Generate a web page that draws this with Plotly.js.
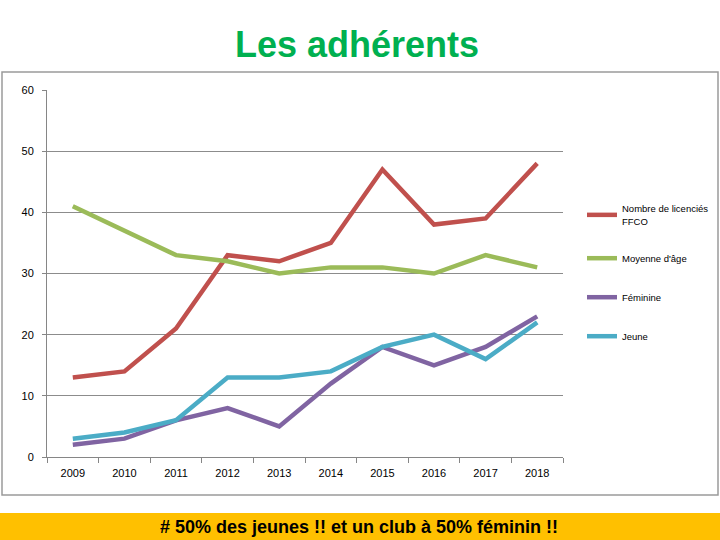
<!DOCTYPE html>
<html>
<head>
<meta charset="utf-8">
<script src="https://cdn.plot.ly/plotly-3.0.1.min.js"></script>
<style>
  body { margin: 0; padding: 0; background: #fff; }
  #chart { width: 720px; height: 540px; }
</style>
</head>
<body>
<div id="chart"></div>
<script>
// years and the four series
var years = ['2009', '2010', '2011', '2012', '2013', '2014', '2015', '2016', '2017', '2018'];
var licencies = [13, 14, 21, 33, 32, 35, 47, 38, 39, 48];
var moyenneAge = [41, 37, 33, 32, 30, 31, 31, 30, 33, 31];
var feminine = [2, 3, 6, 8, 5, 12, 18, 15, 18, 23];
var jeune = [3, 4, 6, 13, 13, 14, 18, 20, 16, 22];

var names = ['Nombre de licenciés<br>FFCO', 'Moyenne d\'âge', 'Féminine', 'Jeune'];
var colors = ['#C0504D', '#9BBB59', '#8064A2', '#4BACC6'];
var series = [licencies, moyenneAge, feminine, jeune];

var data = [];
for(var i = 0; i < series.length; i++){
	data.push({
		x: years,
		y: series[i],
		name: names[i],
		legendgroup: 'g' + i,
		type: 'scatter',
		mode: 'lines',
		line: {color: colors[i], width: 4.5}
	});
}

// plot area in pixels: x 47..563, y 90..457
var L = 47, R = 563, T = 90, B = 457;
function px(x){ return (x - L) / (R - L); }
function py(y){ return (B - y) / (B - T); }

var layout = {
	width: 720,
	height: 540,
	margin: {l: L, r: 720 - R, t: T, b: 540 - B, autoexpand: false},
	paper_bgcolor: '#ffffff',
	plot_bgcolor: '#ffffff',
	font: {family: 'Liberation Sans, Arial, sans-serif', size: 11, color: '#000'},
	title: {
		text: '<b>Les adhérents</b>',
		x: 357 / 720,
		xanchor: 'center',
		y: 1 - 44 / 540,
		yanchor: 'middle',
		font: {family: 'Liberation Sans, Arial, sans-serif', size: 36, color: '#00B050'}
	},
	xaxis: {
		type: 'category',
		range: [-0.5, 9.5],
		tickson: 'boundaries',
		ticks: 'outside',
		ticklen: 5,
		tickcolor: '#868686',
		showline: true,
		linecolor: '#868686',
		showgrid: false,
		zeroline: false,
		tickfont: {size: 11, color: '#000'},
		ticklabelstandoff: 6,
		fixedrange: true
	},
	yaxis: {
		range: [0, 60],
		dtick: 10,
		ticks: 'outside',
		ticklen: 4,
		tickcolor: '#868686',
		showline: true,
		linecolor: '#868686',
		gridcolor: '#8c8c8c',
		gridwidth: 1,
		zeroline: false,
		tickfont: {size: 11, color: '#000'},
		ticklabelstandoff: 6,
		fixedrange: true
	},
	showlegend: true,
	legend: {
		x: px(582),
		y: py(196),
		xanchor: 'left',
		yanchor: 'top',
		font: {size: 9.5, color: '#000'},
		tracegroupgap: 20,
		itemwidth: 30,
		bgcolor: 'rgba(0,0,0,0)'
	},
	shapes: [
		{
			type: 'rect', xref: 'paper', yref: 'paper', layer: 'below',
			x0: px(2), x1: px(718), y0: py(495), y1: py(72),
			line: {color: '#9a9a9a', width: 1.5}
		},
		{
			type: 'rect', xref: 'paper', yref: 'paper', layer: 'below',
			x0: px(0), x1: px(720), y0: py(540), y1: py(513),
			line: {width: 0}, fillcolor: '#FFC000'
		}
	],
	annotations: [
		{
			text: '<b># 50% des jeunes !! et un club à 50% féminin !!</b>',
			xref: 'paper', yref: 'paper',
			x: px(359), y: py(527),
			xanchor: 'center', yanchor: 'middle',
			showarrow: false,
			font: {family: 'Liberation Sans, Arial, sans-serif', size: 18, color: '#000'}
		}
	]
};

Plotly.newPlot('chart', data, layout, {displayModeBar: false, staticPlot: true});
</script>
</body>
</html>
